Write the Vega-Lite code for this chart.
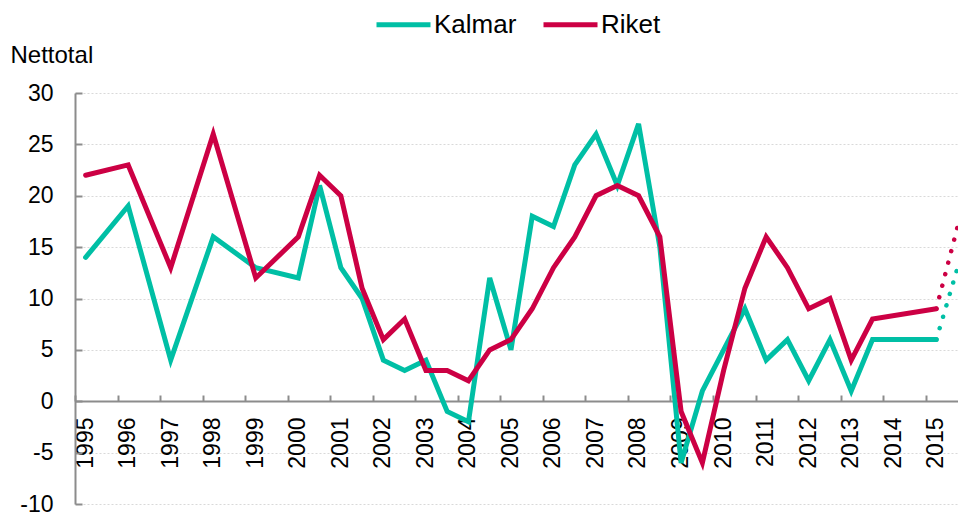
{
  "$schema": "https://vega.github.io/schema/vega-lite/v6.json",
  "autosize": {"type": "none"},
  "padding": {"left": 75, "top": 93, "right": 0, "bottom": 10},
  "width": 883,
  "height": 411,
  "config": {
    "font": "Liberation Sans",
    "view": {"stroke": null}
  },
  "data": {
    "values": [
      {"t": 1995.25, "region": "Kalmar", "value": 14},
      {"t": 1996.25, "region": "Kalmar", "value": 19},
      {"t": 1997.25, "region": "Kalmar", "value": 4},
      {"t": 1998.25, "region": "Kalmar", "value": 16},
      {"t": 1999.25, "region": "Kalmar", "value": 13},
      {"t": 2000.25, "region": "Kalmar", "value": 12},
      {"t": 2000.75, "region": "Kalmar", "value": 21},
      {"t": 2001.25, "region": "Kalmar", "value": 13},
      {"t": 2001.75, "region": "Kalmar", "value": 10},
      {"t": 2002.25, "region": "Kalmar", "value": 4},
      {"t": 2002.75, "region": "Kalmar", "value": 3},
      {"t": 2003.25, "region": "Kalmar", "value": 4},
      {"t": 2003.75, "region": "Kalmar", "value": -1},
      {"t": 2004.25, "region": "Kalmar", "value": -2},
      {"t": 2004.75, "region": "Kalmar", "value": 12},
      {"t": 2005.25, "region": "Kalmar", "value": 5},
      {"t": 2005.75, "region": "Kalmar", "value": 18},
      {"t": 2006.25, "region": "Kalmar", "value": 17},
      {"t": 2006.75, "region": "Kalmar", "value": 23},
      {"t": 2007.25, "region": "Kalmar", "value": 26},
      {"t": 2007.75, "region": "Kalmar", "value": 21},
      {"t": 2008.25, "region": "Kalmar", "value": 27},
      {"t": 2008.75, "region": "Kalmar", "value": 15},
      {"t": 2009.25, "region": "Kalmar", "value": -6},
      {"t": 2009.75, "region": "Kalmar", "value": 1},
      {"t": 2010.25, "region": "Kalmar", "value": 5},
      {"t": 2010.75, "region": "Kalmar", "value": 9},
      {"t": 2011.25, "region": "Kalmar", "value": 4},
      {"t": 2011.75, "region": "Kalmar", "value": 6},
      {"t": 2012.25, "region": "Kalmar", "value": 2},
      {"t": 2012.75, "region": "Kalmar", "value": 6},
      {"t": 2013.25, "region": "Kalmar", "value": 1},
      {"t": 2013.75, "region": "Kalmar", "value": 6},
      {"t": 2015.25, "region": "Kalmar", "value": 6},
      {"t": 2015.75, "region": "Kalmar", "value": 13},
      {"t": 1995.25, "region": "Riket", "value": 22},
      {"t": 1996.25, "region": "Riket", "value": 23},
      {"t": 1997.25, "region": "Riket", "value": 13},
      {"t": 1998.25, "region": "Riket", "value": 26},
      {"t": 1999.25, "region": "Riket", "value": 12},
      {"t": 2000.25, "region": "Riket", "value": 16},
      {"t": 2000.75, "region": "Riket", "value": 22},
      {"t": 2001.25, "region": "Riket", "value": 20},
      {"t": 2001.75, "region": "Riket", "value": 11},
      {"t": 2002.25, "region": "Riket", "value": 6},
      {"t": 2002.75, "region": "Riket", "value": 8},
      {"t": 2003.25, "region": "Riket", "value": 3},
      {"t": 2003.75, "region": "Riket", "value": 3},
      {"t": 2004.25, "region": "Riket", "value": 2},
      {"t": 2004.75, "region": "Riket", "value": 5},
      {"t": 2005.25, "region": "Riket", "value": 6},
      {"t": 2005.75, "region": "Riket", "value": 9},
      {"t": 2006.25, "region": "Riket", "value": 13},
      {"t": 2006.75, "region": "Riket", "value": 16},
      {"t": 2007.25, "region": "Riket", "value": 20},
      {"t": 2007.75, "region": "Riket", "value": 21},
      {"t": 2008.25, "region": "Riket", "value": 20},
      {"t": 2008.75, "region": "Riket", "value": 16},
      {"t": 2009.25, "region": "Riket", "value": -1},
      {"t": 2009.75, "region": "Riket", "value": -6},
      {"t": 2010.25, "region": "Riket", "value": 3},
      {"t": 2010.75, "region": "Riket", "value": 11},
      {"t": 2011.25, "region": "Riket", "value": 16},
      {"t": 2011.75, "region": "Riket", "value": 13},
      {"t": 2012.25, "region": "Riket", "value": 9},
      {"t": 2012.75, "region": "Riket", "value": 10},
      {"t": 2013.25, "region": "Riket", "value": 4},
      {"t": 2013.75, "region": "Riket", "value": 8},
      {"t": 2015.25, "region": "Riket", "value": 9},
      {"t": 2015.75, "region": "Riket", "value": 17}
    ]
  },
  "encoding": {
    "x": {
      "field": "t",
      "type": "quantitative",
      "scale": {"domain": [1995, 2015.76], "nice": false, "zero": false},
      "axis": {
        "title": null,
        "values": [1995, 1996, 1997, 1998, 1999, 2000, 2001, 2002, 2003, 2004, 2005, 2006, 2007, 2008, 2009, 2010, 2011, 2012, 2013, 2014, 2015],
        "format": "d",
        "labelAngle": -90,
        "labelOffset": 10,
        "labelPadding": 22,
        "labelFontSize": 23,
        "labelColor": "#000000",
        "labelFlush": false,
        "labelOverlap": false,
        "labelBound": false,
        "offset": -103,
        "grid": false,
        "domainColor": "#8c8c8c",
        "domainWidth": 2,
        "tickColor": "#8c8c8c",
        "tickWidth": 2,
        "tickSize": -6,
        "zindex": 0
      }
    },
    "y": {
      "field": "value",
      "type": "quantitative",
      "scale": {"domain": [-10, 30], "nice": false},
      "axis": {
        "title": "Nettotal",
        "titleAngle": 0,
        "titleAlign": "left",
        "titleBaseline": "alphabetic",
        "titleX": -65,
        "titleY": -31,
        "titleFontSize": 24,
        "titleFontWeight": "normal",
        "titleColor": "#000000",
        "values": [-10, -5, 0, 5, 10, 15, 20, 25, 30],
        "labelExpr": "datum.value < 0 ? '-' + abs(datum.value) : '' + datum.value",
        "labelFontSize": 23,
        "labelColor": "#000000",
        "labelPadding": 29,
        "domainColor": "#8c8c8c",
        "domainWidth": 2,
        "tickColor": "#8c8c8c",
        "tickWidth": 2,
        "tickSize": -7,
        "gridColor": "#d9d9d9",
        "gridDash": [2, 2],
        "gridWidth": 1,
        "zindex": 0
      }
    },
    "color": {
      "field": "region",
      "type": "nominal",
      "scale": {"domain": ["Kalmar", "Riket"], "range": ["#00bfa5", "#cc0044"]}
    }
  },
  "layer": [
    {
      "transform": [{"filter": "datum.t <= 2015.25"}],
      "mark": {"type": "line", "strokeWidth": 5, "strokeJoin": "miter", "strokeCap": "round"},
      "encoding": {
        "color": {
          "field": "region",
          "type": "nominal",
          "legend": {
            "title": null,
            "orient": "none",
            "direction": "horizontal",
            "legendX": 299,
            "legendY": -98,
            "symbolType": "stroke",
            "symbolSize": 2916,
            "symbolStrokeWidth": 5,
            "labelFontSize": 26,
            "labelColor": "#000000",
            "labelOffset": 1,
            "columnPadding": 16
          }
        }
      }
    },
    {
      "transform": [{"filter": "datum.t >= 2015.25"}],
      "mark": {"type": "line", "strokeWidth": 4.5, "strokeCap": "round", "strokeDash": [0.1, 11.8]},
      "encoding": {
        "color": {"field": "region", "type": "nominal", "legend": null}
      }
    }
  ]
}
